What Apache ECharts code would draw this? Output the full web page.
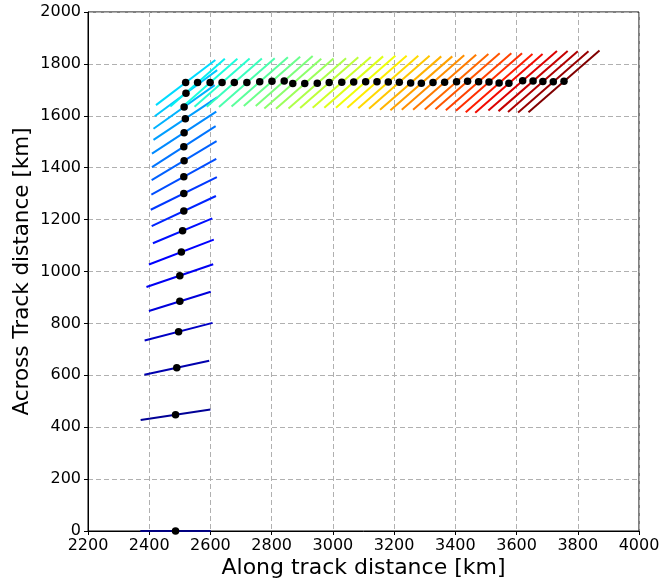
<!DOCTYPE html>
<html>
<head>
<meta charset="utf-8">
<script src="https://cdn.jsdelivr.net/npm/echarts@6/dist/echarts.min.js"></script>
<style>
html,body{margin:0;padding:0;background:#fff;}
#chart{width:662px;height:581px;}
</style>
</head>
<body>
<div id="chart"></div>
<script>
// Track points: vertical leg then horizontal leg
var colX = [2486, 2486, 2490, 2496, 2500, 2500, 2505, 2509, 2513, 2513, 2513, 2514, 2513, 2514, 2518, 2514, 2520, 2519];
var colY = [0, 448, 629, 768, 885, 984, 1075, 1157, 1233, 1301, 1365, 1427, 1481, 1535, 1589, 1634, 1687, 1728];
var topX = [2558,2599,2638,2678,2719,2761,2801,2841,2869,2908,2949,2988,3029,3068,3107,3144,3181,3217,3254,3289,3327,3365,3404,3440,3476,3510,3543,3575,3620,3654,3686,3720,3755];
var topY = [1728,1728,1728,1728,1728,1731,1733,1734,1724,1724,1725,1728,1729,1730,1731,1731,1730,1729,1726,1725,1728,1729,1731,1733,1731,1730,1726,1725,1735,1734,1732,1731,1733];

// Half extents (data units) of the segment drawn through each point
var colHx = [115,114,106,111,101,109,106,97,105,108,106,106,104,105,104,100,102,97];
var colHy = [0,20,27,34,37,44,48,48,58,63,69,75,79,81,82,84,89,87];
var topHx = [89,89,90,90,91,92,92,93,93,94,94,95,95,96,97,97,98,99,100,101,102,103,104,105,107,108,109,110,112,113,114,115,116];
var topHy = [92,92,93,93,94,95,95,96,96,97,97,98,98,99,100,100,101,102,103,104,105,106,107,108,110,111,112,113,115,116,117,118,119];

var xTicks = [2200,2400,2600,2800,3000,3200,3400,3600,3800,4000];
var yTicks = [0,200,400,600,800,1000,1200,1400,1600,1800,2000];

var px = colX.concat(topX), py = colY.concat(topY);
var hx = colHx.concat(topHx), hy = colHy.concat(topHy);
var N = px.length;

function jet(t){
  function clamp(v){return Math.max(0,Math.min(1,v));}
  var r,g,b;
  if(t<0.35) r=0; else if(t<0.66) r=(t-0.35)/0.31; else if(t<0.89) r=1; else r=1-0.5*(t-0.89)/0.11;
  if(t<0.125) g=0; else if(t<0.375) g=(t-0.125)/0.25; else if(t<0.64) g=1; else if(t<0.91) g=1-(t-0.64)/0.27; else g=0;
  if(t<0.11) b=0.5+0.5*t/0.11; else if(t<0.34) b=1; else if(t<0.65) b=1-(t-0.34)/0.31; else b=0;
  return 'rgb('+Math.round(clamp(r)*255)+','+Math.round(clamp(g)*255)+','+Math.round(clamp(b)*255)+')';
}

var segs = [];
for(var i=0;i<N;i++){
  segs.push({coords:[[px[i]-hx[i],py[i]-hy[i]],[px[i]+hx[i],py[i]+hy[i]]], lineStyle:{color:jet(i/(N-1))}});
}
var pts = [];
for(var j=0;j<N;j++) pts.push([px[j],py[j]]);

var font = 'DejaVu Sans';
function plain(v){return String(v);}
var chart = echarts.init(document.getElementById('chart'));
chart.setOption({
  animation:false,
  grid:{left:88,right:23,top:12,bottom:50,containLabel:false,outerBoundsMode:'none',show:true,borderColor:'#000',borderWidth:1,backgroundColor:'transparent'},
  xAxis:{type:'value',min:xTicks[0],max:xTicks[xTicks.length-1],interval:200,
    name:'Along track distance [km]',nameLocation:'middle',nameGap:26,nameMoveOverlap:false,
    nameTextStyle:{fontFamily:font,fontSize:22,color:'#000',verticalAlign:'top'},
    axisLine:{show:true,onZero:false,lineStyle:{color:'#000',width:1}},
    axisTick:{show:true,length:4,lineStyle:{color:'#000'}},
    axisLabel:{fontFamily:font,fontSize:16,color:'#000',margin:7,formatter:plain},
    splitLine:{show:true,lineStyle:{color:'#b0b0b0',type:[5,3],width:1}}},
  yAxis:{type:'value',min:yTicks[0],max:yTicks[yTicks.length-1],interval:200,
    name:'Across Track distance [km]',nameLocation:'middle',nameGap:55,nameMoveOverlap:false,
    nameTextStyle:{fontFamily:font,fontSize:21.5,color:'#000'},
    axisLine:{show:true,onZero:false,lineStyle:{color:'#000',width:1}},
    axisTick:{show:true,length:4,lineStyle:{color:'#000'}},
    axisLabel:{fontFamily:font,fontSize:16,color:'#000',margin:7,formatter:plain},
    splitLine:{show:true,lineStyle:{color:'#b0b0b0',type:[5,3],width:1}}},
  series:[
    {type:'lines',coordinateSystem:'cartesian2d',data:segs,lineStyle:{width:2,opacity:1},z:2,clip:true,silent:true},
    {type:'scatter',data:pts,symbol:'circle',symbolSize:7.5,itemStyle:{color:'#000',opacity:1},z:3,clip:true,silent:true}
  ]
});
</script>
</body>
</html>
